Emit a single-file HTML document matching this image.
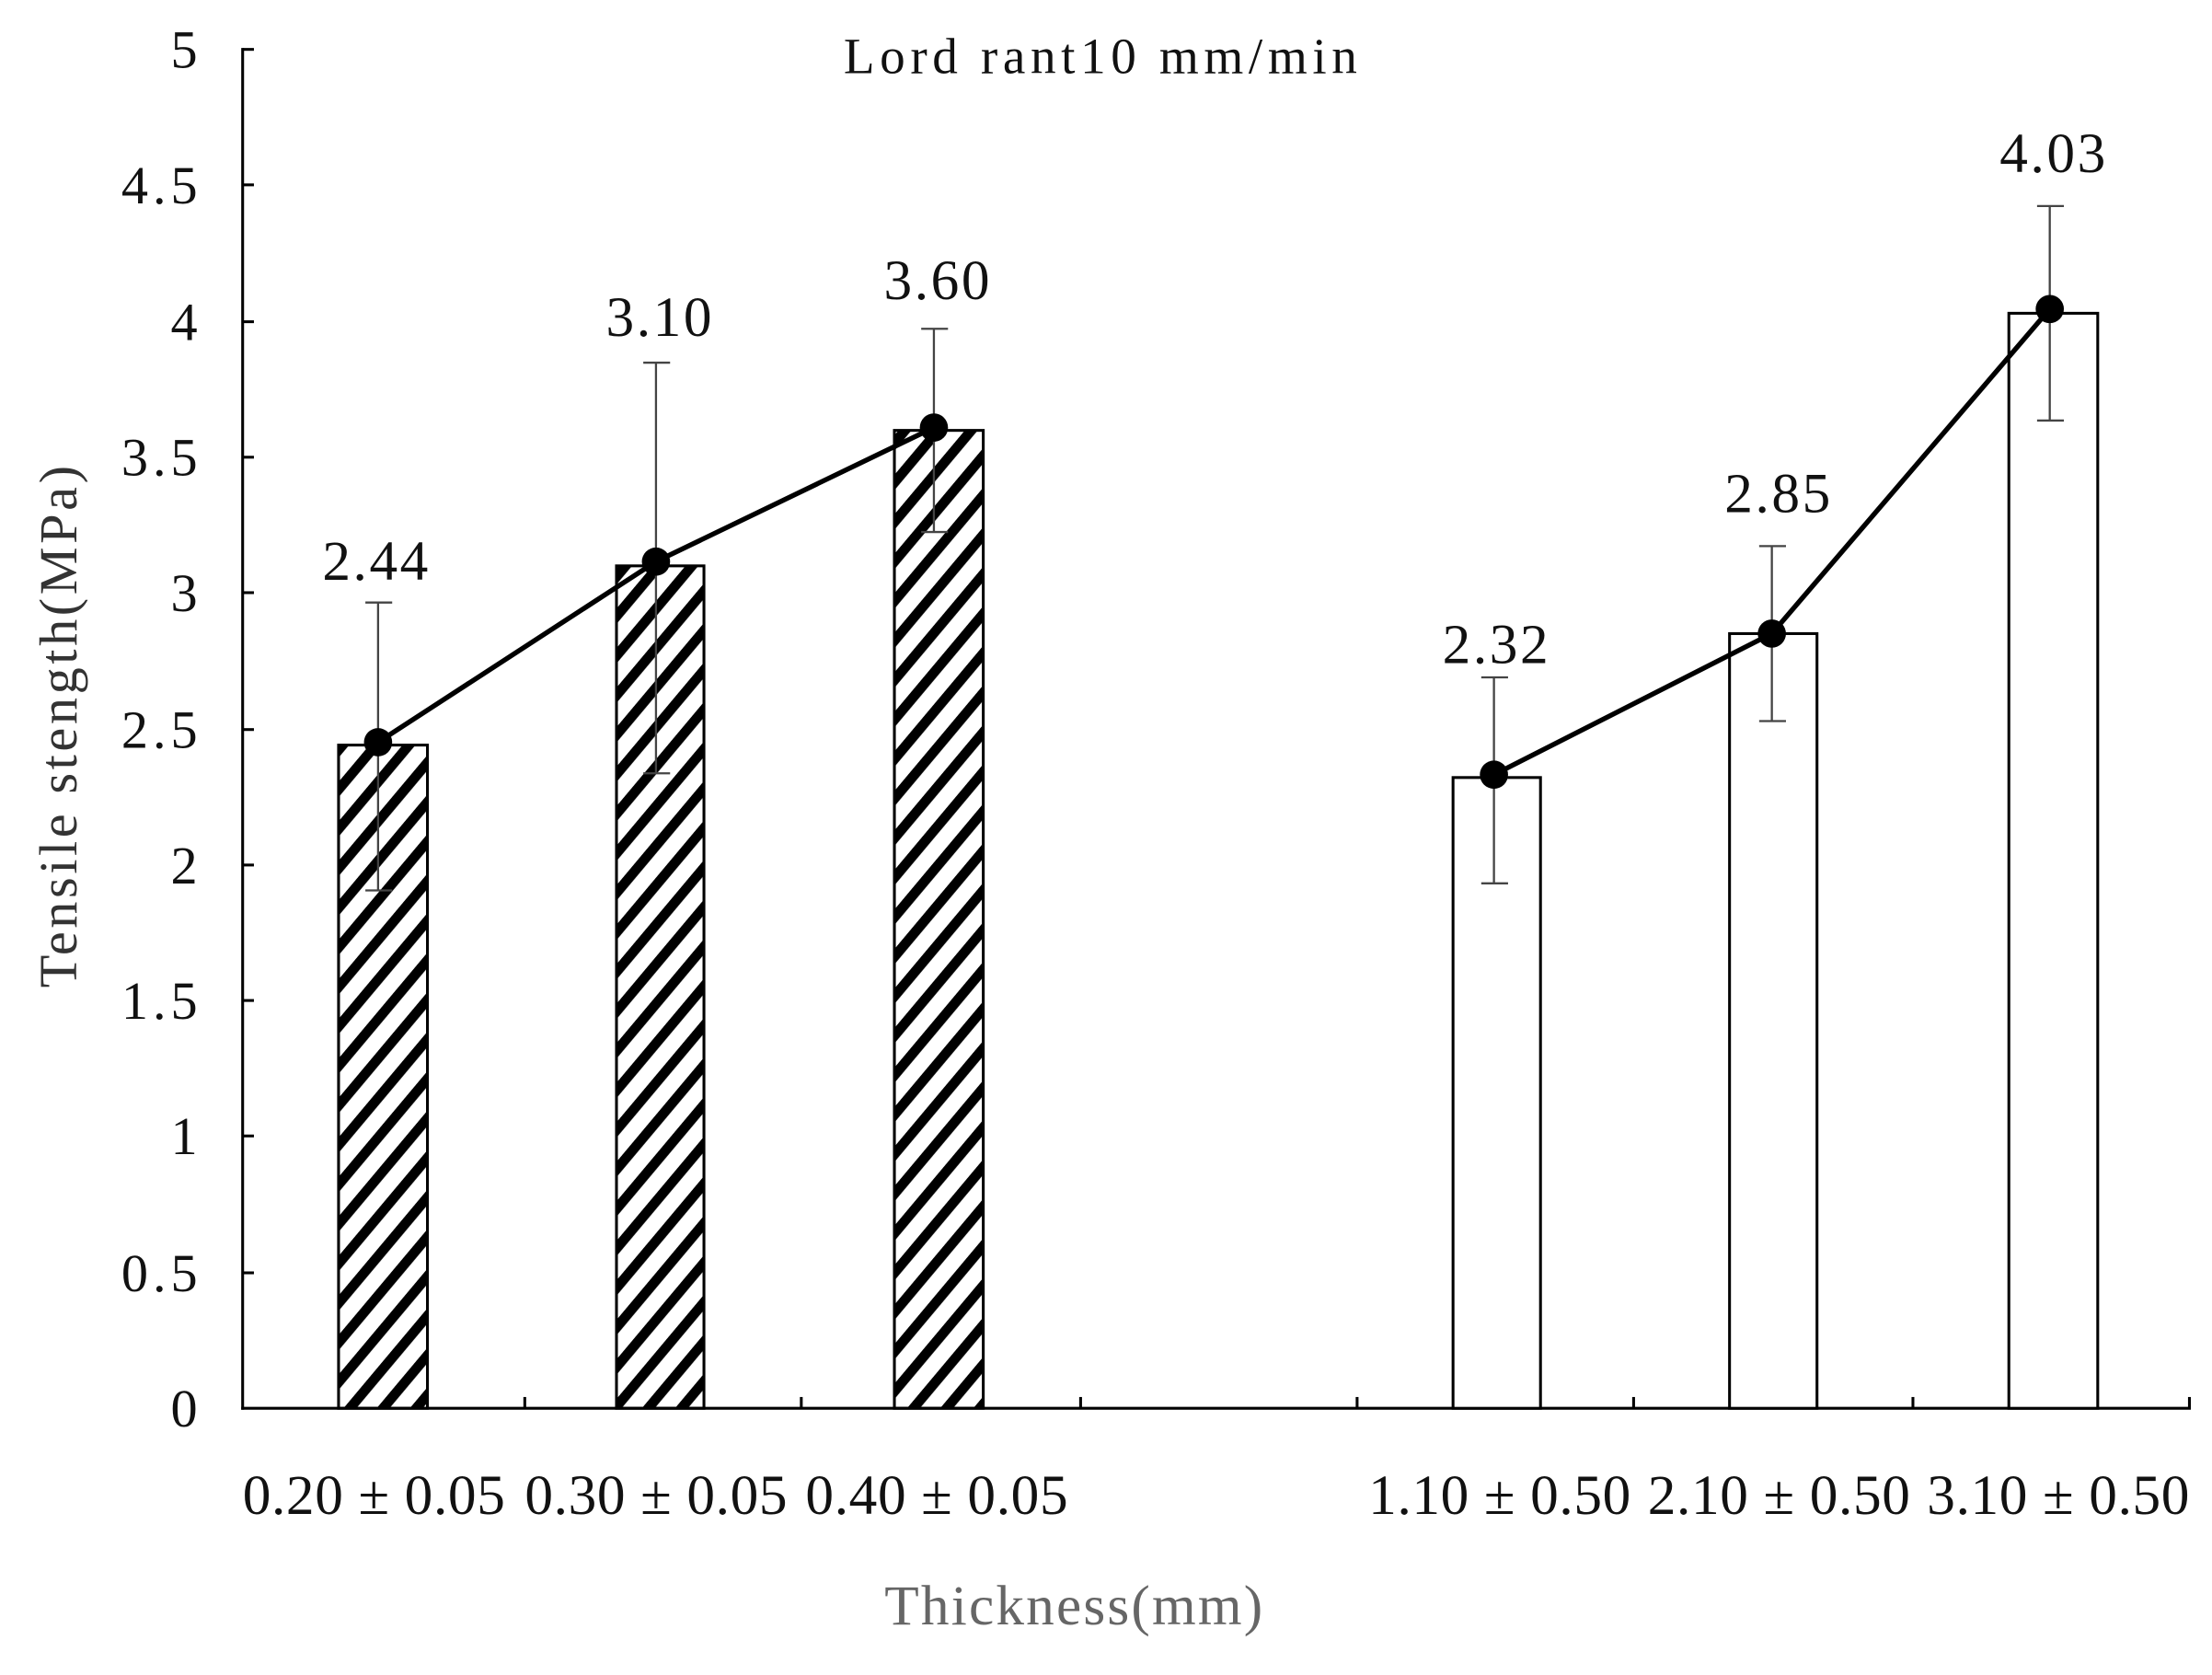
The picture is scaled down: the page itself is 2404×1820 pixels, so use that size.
<!DOCTYPE html>
<html><head><meta charset="utf-8"><style>html,body{margin:0;padding:0;background:#fff}svg{display:block}</style></head>
<body>
<svg width="2404" height="1820" viewBox="0 0 1568 1187" preserveAspectRatio="none" xmlns="http://www.w3.org/2000/svg" font-family="Liberation Serif, serif">
<defs>
<pattern id="h" patternUnits="userSpaceOnUse" width="18" height="18" patternTransform="rotate(40)">
<rect x="0" y="0" width="7" height="18" fill="#000"/>
</pattern>
</defs>
<rect width="1568" height="1187" fill="#fff"/>
<g stroke="#000" stroke-width="2" fill="none">
<line x1="172" y1="34" x2="172" y2="999"/>
<line x1="171" y1="998" x2="1553" y2="998"/>
<line x1="172" y1="35" x2="180" y2="35"/>
<line x1="172" y1="131" x2="180" y2="131"/>
<line x1="172" y1="228" x2="180" y2="228"/>
<line x1="172" y1="324" x2="180" y2="324"/>
<line x1="172" y1="420" x2="180" y2="420"/>
<line x1="172" y1="517" x2="180" y2="517"/>
<line x1="172" y1="613" x2="180" y2="613"/>
<line x1="172" y1="709" x2="180" y2="709"/>
<line x1="172" y1="805" x2="180" y2="805"/>
<line x1="172" y1="902" x2="180" y2="902"/>
<line x1="372" y1="990" x2="372" y2="998"/>
<line x1="568" y1="990" x2="568" y2="998"/>
<line x1="766" y1="990" x2="766" y2="998"/>
<line x1="962" y1="990" x2="962" y2="998"/>
<line x1="1158" y1="990" x2="1158" y2="998"/>
<line x1="1356" y1="990" x2="1356" y2="998"/>
<line x1="1552" y1="990" x2="1552" y2="998"/>
</g>
<g font-size="38" fill="#111" text-anchor="end">
<text x="140" y="48">5</text><text x="140" y="144" textLength="54">4.5</text><text x="140" y="241">4</text>
<text x="140" y="337" textLength="54">3.5</text><text x="140" y="433">3</text><text x="140" y="530" textLength="54">2.5</text>
<text x="140" y="626">2</text><text x="140" y="722" textLength="54">1.5</text><text x="140" y="818">1</text>
<text x="140" y="915" textLength="54">0.5</text><text x="140" y="1011">0</text>
</g>
<g stroke="#000" stroke-width="2">
<rect x="240" y="528" width="63" height="470" fill="url(#h)"/>
<rect x="437" y="401" width="62" height="597" fill="url(#h)"/>
<rect x="634" y="305" width="63" height="693" fill="url(#h)"/>
<rect x="1030" y="551" width="62" height="447" fill="#fff"/>
<rect x="1226" y="449" width="62" height="549" fill="#fff"/>
<rect x="1424" y="222" width="63" height="776" fill="#fff"/>
</g>
<g stroke="#444" stroke-width="1.5">
<line x1="268" y1="427" x2="268" y2="631"/><line x1="259" y1="427" x2="278" y2="427"/><line x1="259" y1="631" x2="278" y2="631"/>
<line x1="465" y1="257" x2="465" y2="548"/><line x1="456" y1="257" x2="475" y2="257"/><line x1="456" y1="548" x2="475" y2="548"/>
<line x1="662" y1="233" x2="662" y2="377"/><line x1="653" y1="233" x2="672" y2="233"/><line x1="653" y1="377" x2="672" y2="377"/>
<line x1="1059" y1="480" x2="1059" y2="626"/><line x1="1050" y1="480" x2="1069" y2="480"/><line x1="1050" y1="626" x2="1069" y2="626"/>
<line x1="1256" y1="387" x2="1256" y2="511"/><line x1="1247" y1="387" x2="1266" y2="387"/><line x1="1247" y1="511" x2="1266" y2="511"/>
<line x1="1453" y1="146" x2="1453" y2="298"/><line x1="1444" y1="146" x2="1463" y2="146"/><line x1="1444" y1="298" x2="1463" y2="298"/>
</g>
<polyline points="268,526 465,398 662,303" fill="none" stroke="#000" stroke-width="3.5"/>
<polyline points="1059,549 1256,449 1453,219" fill="none" stroke="#000" stroke-width="3.5"/>
<g fill="#000">
<circle cx="268" cy="526" r="10"/><circle cx="465" cy="398" r="10"/><circle cx="662" cy="303" r="10"/>
<circle cx="1059" cy="549" r="10"/><circle cx="1256" cy="449" r="10"/><circle cx="1453" cy="219" r="10"/>
</g>
<g font-size="40" fill="#111" text-anchor="middle">
<text x="266" y="411" textLength="75">2.44</text><text x="467" y="238" textLength="75">3.10</text><text x="664" y="212" textLength="75">3.60</text>
<text x="1060" y="470" textLength="75">2.32</text><text x="1260" y="363" textLength="75">2.85</text><text x="1455" y="122" textLength="75">4.03</text>
</g>
<text x="780" y="52" font-size="36" text-anchor="middle" fill="#111" textLength="364">Lord rant10 mm/min</text>
<g font-size="40" fill="#111" text-anchor="middle">
<text x="265" y="1073" textLength="186">0.20 ± 0.05</text><text x="465" y="1073" textLength="186">0.30 ± 0.05</text><text x="664" y="1073" textLength="186">0.40 ± 0.05</text>
<text x="1063" y="1073" textLength="186">1.10 ± 0.50</text><text x="1261" y="1073" textLength="186">2.10 ± 0.50</text><text x="1459" y="1073" textLength="186">3.10 ± 0.50</text>
</g>
<text x="761" y="1151" font-size="40" text-anchor="middle" fill="#666" textLength="268">Thickness(mm)</text>
<text transform="translate(54,515) rotate(-90)" font-size="38" text-anchor="middle" fill="#333" textLength="370">Tensile stength(MPa)</text>
</svg>
</body></html>
